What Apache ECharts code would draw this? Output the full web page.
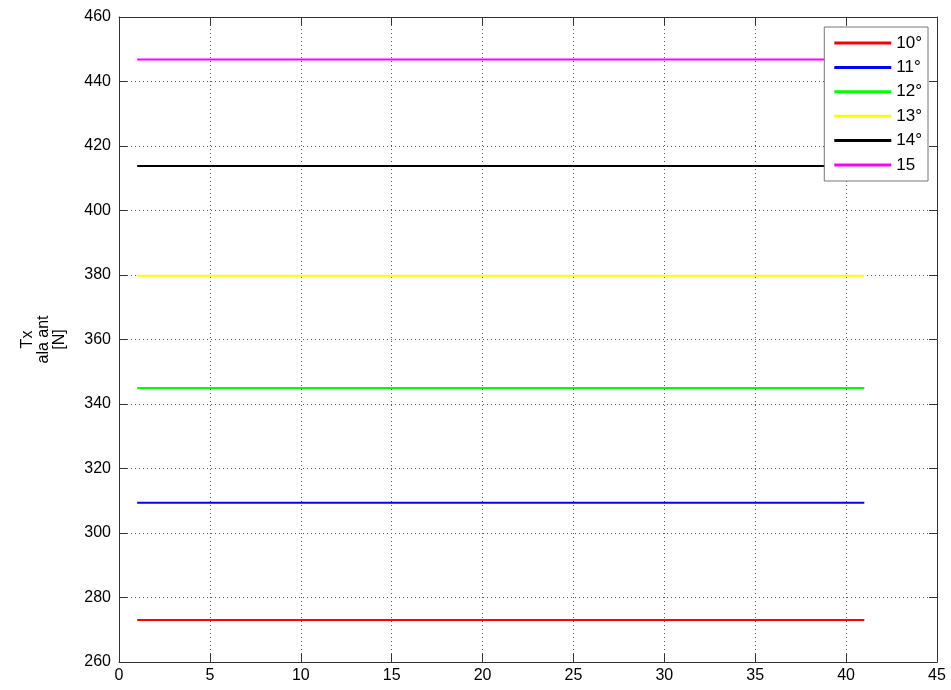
<!DOCTYPE html>
<html>
<head>
<meta charset="utf-8">
<script src="https://cdn.jsdelivr.net/npm/echarts@6/dist/echarts.min.js"></script>
<style>
  html, body { margin: 0; padding: 0; background: #fff; }
  #chart { width: 951px; height: 690px; }
</style>
</head>
<body>
<div id="chart"></div>
<script>
// Series names (legend entries)
const seriesNames = ['10°', '11°', '12°', '13°', '14°', '15'];
// Line colours, one per series
const seriesColors = ['#ff0000', '#0000ff', '#00ff00', '#ffff00', '#000000', '#ff00ff'];
// Start and end sample of each run
const xPoints = [1, 41];
// Tx values for each angle [N]
const txValues = [273.0, 309.4, 345.0, 379.8, 413.8, 446.8];

const FONT = 'Liberation Sans, Arial, sans-serif';

const series = seriesNames.map((name, i) => ({
  name: name,
  type: 'line',
  symbol: 'none',
  xAxisIndex: 0,
  yAxisIndex: 0,
  data: xPoints.map(x => [x, txValues[i]]),
  lineStyle: { color: seriesColors[i], width: 2 },
  itemStyle: { color: seriesColors[i] },
  emphasis: { disabled: true },
  animation: false
}));

const axisLineStyle = { color: '#333', width: 1 };
const gridLine = { show: true, lineStyle: { color: '#555', type: [1, 3], width: 1 } };

const chart = echarts.init(document.getElementById('chart'), null, { renderer: 'canvas' });
chart.setOption({
  backgroundColor: '#ffffff',
  animation: false,
  grid: { left: 119, top: 17, right: 14, bottom: 28, containLabel: false },
  legend: {
    data: seriesNames,
    orient: 'vertical',
    right: 23,
    top: 27,
    icon: 'rect',
    itemWidth: 57,
    itemHeight: 3,
    itemGap: 6.4,
    padding: [7, 6, 7, 10],
    borderColor: '#777',
    borderWidth: 1,
    backgroundColor: '#ffffff',
    selectedMode: false,
    textStyle: { fontFamily: FONT, fontSize: 17, color: '#000', lineHeight: 18 }
  },
  xAxis: [
    {
      type: 'value', min: 0, max: 45, interval: 5, position: 'bottom',
      axisLine: { show: true, onZero: false, lineStyle: axisLineStyle },
      axisTick: { show: true, inside: true, length: 8, lineStyle: axisLineStyle },
      axisLabel: { fontFamily: FONT, fontSize: 16, color: '#000', margin: 6 },
      splitLine: gridLine
    },
    {
      type: 'value', min: 0, max: 45, interval: 5, position: 'top',
      axisLine: { show: true, onZero: false, lineStyle: axisLineStyle },
      axisTick: { show: true, inside: true, length: 8, lineStyle: axisLineStyle },
      axisLabel: { show: false },
      splitLine: { show: false }
    }
  ],
  yAxis: [
    {
      type: 'value', min: 260, max: 460, interval: 20, position: 'left',
      name: 'Tx\nala ant\n[N]',
      nameLocation: 'middle',
      nameRotate: 90,
      nameGap: 51,
      nameTextStyle: { fontFamily: FONT, fontSize: 16, color: '#000', lineHeight: 16 },
      axisLine: { show: true, onZero: false, lineStyle: axisLineStyle },
      axisTick: { show: true, inside: true, length: 8, lineStyle: axisLineStyle },
      axisLabel: { fontFamily: FONT, fontSize: 16, color: '#000', margin: 8 },
      splitLine: gridLine
    },
    {
      type: 'value', min: 260, max: 460, interval: 20, position: 'right',
      axisLine: { show: true, onZero: false, lineStyle: axisLineStyle },
      axisTick: { show: true, inside: true, length: 8, lineStyle: axisLineStyle },
      axisLabel: { show: false },
      splitLine: { show: false }
    }
  ],
  series: series
});
</script>
</body>
</html>
